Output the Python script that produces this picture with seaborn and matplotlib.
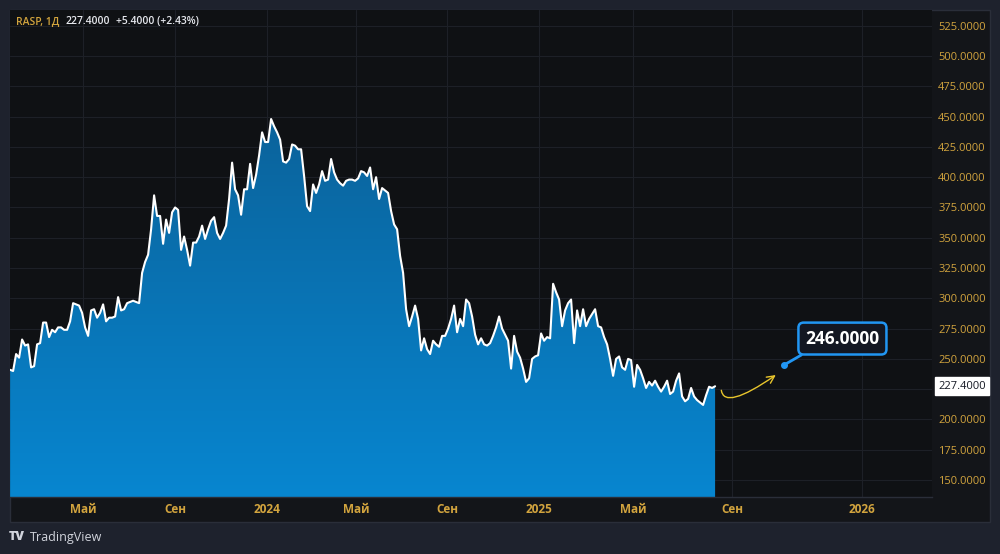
import numpy as np
import seaborn as sns
import matplotlib.pyplot as plt
from matplotlib.patches import Rectangle
from matplotlib.colors import LinearSegmentedColormap

# daily-ish closes of RASP (one value per ~3 px bar step)
close = [
    241, 240, 254, 251, 266, 261, 262, 243, 244, 262,
    263, 280, 280, 268, 274, 272, 276, 276, 274, 274,
    281, 296, 295, 294, 288, 276, 269, 290, 291, 284,
    288, 295, 281, 284, 284, 285, 301, 290, 291, 296,
    297, 298, 297, 296, 321, 330, 336, 357, 385, 368,
    368, 345, 365, 354, 371, 375, 373, 340, 351, 340,
    327, 346, 346, 351, 360, 349, 357, 364, 367, 354,
    349, 354, 360, 382, 412, 390, 385, 369, 390, 390,
    411, 391, 402, 418, 437, 429, 429, 448, 442, 437,
    431, 413, 412, 415, 427, 426, 423, 423, 401, 376,
    372, 394, 387, 394, 405, 397, 398, 415, 404, 398,
    395, 393, 397, 398, 398, 397, 399, 405, 404, 401,
    408, 390, 400, 382, 391, 389, 387, 372, 361, 357,
    335, 321, 291, 277, 285, 294, 283, 257, 267, 258,
    254, 265, 262, 260, 269, 269, 275, 283, 294, 272,
    283, 277, 299, 296, 285, 270, 262, 267, 262, 261,
    263, 269, 276, 285, 275, 270, 265, 242, 269, 256,
    251, 242, 231, 234, 250, 252, 253, 271, 265, 268,
    267, 312, 305, 299, 277, 290, 296, 299, 263, 290,
    277, 291, 277, 283, 287, 291, 277, 276, 268, 262,
    250, 236, 250, 252, 243, 241, 250, 249, 227, 245,
    241, 234, 226, 231, 228, 232, 227, 223, 227, 232,
    221, 223, 232, 238, 219, 215, 217, 226, 219, 216,
    214, 212, 220, 227, 226, 227.4,
]
day_change = 5.4
target_price = 246.0

tick_labels = ['Май', 'Сен', '2024', 'Май', 'Сен', '2025', 'Май', 'Сен', '2026']
tick_pos = [24.3, 55.0, 85.7, 115.3, 145.7, 176.3, 207.7, 240.7, 284.0]
price_ticks = [150, 175, 200, 225, 250, 275, 300, 325, 350, 375, 400, 425, 450, 475, 500, 525]

GOLD = '#d2a43e'
BLUE = '#2196f3'

sns.set_theme(style='dark')
plt.rcParams['font.family'] = ['Open Sans', 'DejaVu Sans']

W, H = 1000, 554
fig = plt.figure(figsize=(W / 100, H / 100), dpi=100, facecolor='#1e222d')
fig.add_artist(Rectangle((9.5 / W, 1 - 521.5 / H), 980.5 / W, 512 / H,
                         transform=fig.transFigure, facecolor='#131519',
                         edgecolor='#2a2e39', lw=1, zorder=0))
ax = fig.add_axes([9.5 / W, 1 - 497 / H, 922.5 / W, 487.5 / H])
ax.set_facecolor('#0f1114')

x = np.arange(len(close))
ymin, ymax = 136, 538.4
xmin, xmax = -0.2, 307.3

# gradient area under the line
poly = ax.fill_between(x, close, ymin, color='none', lw=0)
cmap = LinearSegmentedColormap.from_list('area', ['#0786d0', '#0b629a'])
grad = np.linspace(0, 1, 256).reshape(-1, 1)
im = ax.imshow(grad, extent=[xmin, xmax, ymin, 455], origin='lower',
               aspect='auto', cmap=cmap, zorder=1)
im.set_clip_path(poly.get_paths()[0], transform=ax.transData)

sns.lineplot(x=x, y=close, ax=ax, color='white', lw=1.5, zorder=3)

ax.set_xlim(xmin, xmax)
ax.set_ylim(ymin, ymax)
ax.set_xlabel('')
ax.set_ylabel('')

last = close[-1]

ax.set_xticks(tick_pos)
ax.set_xticklabels(tick_labels)
for t in ax.get_xticklabels():
    t.set_fontweight('bold')
ax.set_yticks(price_ticks)
# the scale hides the tick label that sits under the last-price marker
ax.set_yticklabels(['' if abs(v - last) < 12 else f'{v:.4f}' for v in price_ticks])
ax.yaxis.tick_right()
ax.tick_params(axis='x', length=0, pad=4, labelsize=8.5, labelcolor=GOLD)
ax.tick_params(axis='y', length=0, pad=4.5, labelsize=8, labelcolor=GOLD)
ax.grid(True, color='#1d2027', lw=0.8)
ax.set_axisbelow(True)
for side in ['top', 'left', 'right']:
    ax.spines[side].set_visible(False)
ax.spines['bottom'].set_color('#2a2e39')
ax.spines['bottom'].set_linewidth(1)

# last price marker on the scale
ax.annotate(f'{last:.4f}', xy=(1, last), xycoords=('axes fraction', 'data'),
            xytext=(4.5, 0), textcoords='offset points', ha='left', va='center',
            fontsize=8, color='#131722',
            bbox=dict(boxstyle='square,pad=0.3', fc='white', ec='white'))

# forecast arrow + callout
n = len(close)
ax.annotate('', xy=(n + 20, target_price - 8), xytext=(n + 1, last - 1),
            arrowprops=dict(arrowstyle='->,head_length=0.45,head_width=0.22',
                            color='#e8c52c', lw=1,
                            connectionstyle='angle3,angleA=90,angleB=35'),
            zorder=4)
ax.plot([n + 22], [target_price - 1], 'o', ms=4, color=BLUE, zorder=5)
ax.annotate(f'{target_price:.4f}', xy=(n + 22, target_price - 1),
            xytext=(42, 19), textcoords='offset points', ha='center', va='center',
            fontsize=12.5, fontweight='bold', color='white',
            bbox=dict(boxstyle='round,pad=0.4,rounding_size=0.3', fc='#131722',
                      ec=BLUE, lw=1.8),
            arrowprops=dict(arrowstyle='-', color=BLUE, lw=2, shrinkA=0, shrinkB=0,
                            relpos=(0.12, 0.0)),
            zorder=6)

# header
prev = last - day_change
hy = 1 - 22 / H
fig.text(16 / W, hy, 'RASP, 1Д', color=GOLD, fontsize=7.5, va='center', fontweight='semibold')
fig.text(65 / W, hy, f'{last:.4f}', color='#e6e8ee', fontsize=7.5, va='center', fontweight='semibold')
fig.text(116 / W, hy, f'+{day_change:.4f} (+{day_change / prev * 100:.2f}%)',
         color='#e6e8ee', fontsize=7.5, va='center', fontweight='semibold')

# watermark
fig.text(9 / W, 1 - 537 / H, 'TV', color='#d1d4dc', fontsize=9, va='center', fontweight='heavy')
fig.text(30 / W, 1 - 537 / H, 'TradingView', color='#d1d4dc', fontsize=9, va='center')

fig.savefig('out.png', dpi=100, facecolor=fig.get_facecolor())
